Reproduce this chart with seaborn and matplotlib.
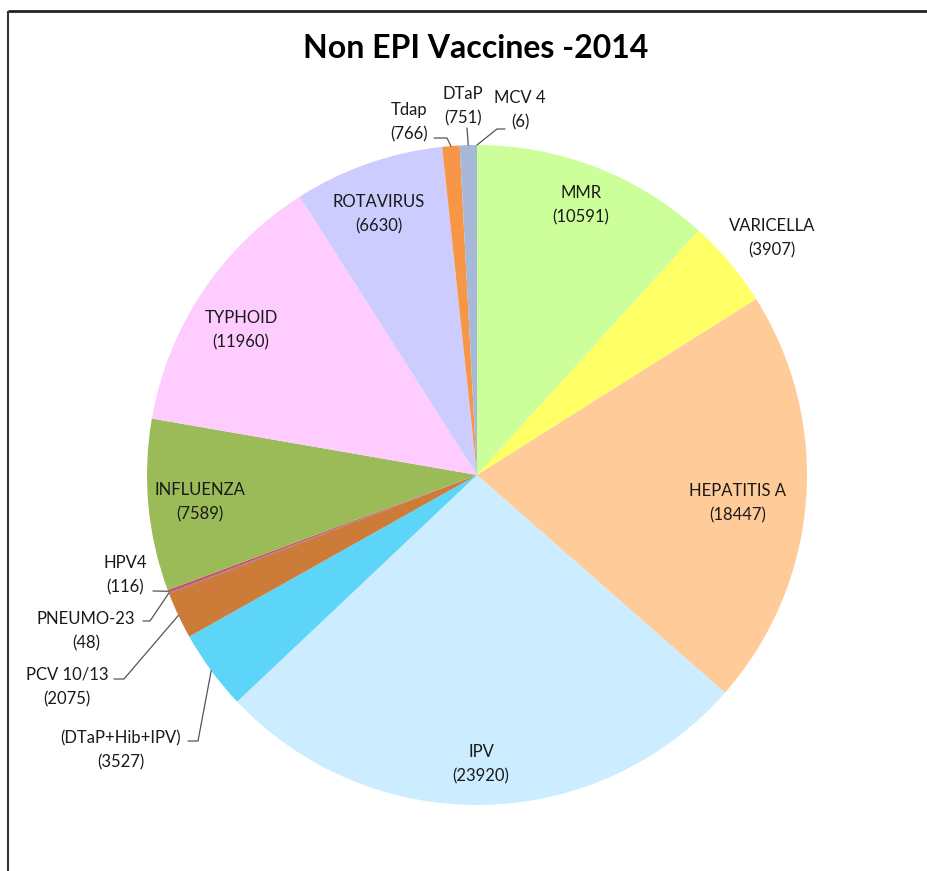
import matplotlib
matplotlib.use("Agg")
import matplotlib.pyplot as plt
import seaborn as sns
import numpy as np

sns.set_theme(style="white")
plt.rcParams['font.family'] = ['Lato', 'DejaVu Sans']

# ---- data ----
vaccines = ["MMR", "VARICELLA", "HEPATITIS A", "IPV", "(DTaP+Hib+IPV)", "PCV 10/13",
            "PNEUMO-23", "HPV4", "INFLUENZA", "TYPHOID", "ROTAVIRUS", "Tdap", "DTaP", "MCV 4"]
doses = [10591, 3907, 18447, 23920, 3527, 2075, 48, 116, 7589, 11960, 6630, 766, 751, 6]
colors = ["#CCFF99", "#FFFF66", "#FFCC99", "#CCECFF", "#5DD5F9", "#CC7B38",
          "#7F6AB0", "#D0505A", "#9BBB59", "#FFCCFF", "#CCCCFF", "#F79646", "#A7B8D8", "#4F81BD"]
title = "Non EPI Vaccines -2014"

# ---- layout (pixel coords, y from top) ----
W, H = 928, 871
CX, CY, R = 477, 475, 330
label_pos = {
    "MMR": (581, 193), "VARICELLA": (772, 226), "HEPATITIS A": (738, 491),
    "IPV": (481, 752), "(DTaP+Hib+IPV)": (121, 738), "PCV 10/13": (67, 675),
    "PNEUMO-23": (86, 619), "HPV4": (125, 563), "INFLUENZA": (200, 490),
    "TYPHOID": (241, 318), "ROTAVIRUS": (379, 202), "Tdap": (409, 110),
    "DTaP": (463, 94), "MCV 4": (520, 98),
}
leaders = {
    "(DTaP+Hib+IPV)": [(188, 741), (198, 741)],
    "PCV 10/13": [(114, 679), (124, 679)],
    "PNEUMO-23": [(143, 621), (150, 621)],
    "HPV4": [(153, 591)],
    "Tdap": [(434, 138), (447, 138)],
    "DTaP": [(467, 128)],
    "MCV 4": [(505, 129), (497, 129)],
}

fig = plt.figure(figsize=(W / 100, H / 100), dpi=100)
ax = fig.add_axes([0, 0, 1, 1])
wedges, _ = ax.pie(doses, colors=colors, startangle=90, counterclock=False,
                   center=(CX, H - CY), radius=R, wedgeprops=dict(linewidth=0))
ax.set_xlim(0, W)
ax.set_ylim(0, H)
ax.set_aspect("equal")
ax.axis("off")

fs = 12
for name, val, w in zip(vaccines, doses, wedges):
    x, y = label_pos[name]
    ax.text(x, H - y, name, ha="center", va="center", fontsize=fs, color="#1a1a1a")
    ax.text(x, H - y - 24, f"({val})", ha="center", va="center", fontsize=fs, color="#1a1a1a")
    if name in leaders:
        mid = np.deg2rad((w.theta1 + w.theta2) / 2)
        px = CX + R * np.cos(mid)
        py = (H - CY) + R * np.sin(mid)
        pts = [(a, H - b) for a, b in leaders[name]] + [(px, py)]
        xs, ys = zip(*pts)
        ax.plot(xs, ys, color="#555555", lw=0.9)

ax.text(476, H - 48, title, ha="center", va="center", fontsize=23, fontweight="bold", color="black")

# chart frame (top and left edges)
ax.plot([8, W], [H - 11, H - 11], color="#222222", lw=2, solid_capstyle="butt")
ax.plot([8, 8], [H - 11, 0], color="#333333", lw=1.5, solid_capstyle="butt")

fig.savefig("out.png", dpi=100, facecolor="white")
